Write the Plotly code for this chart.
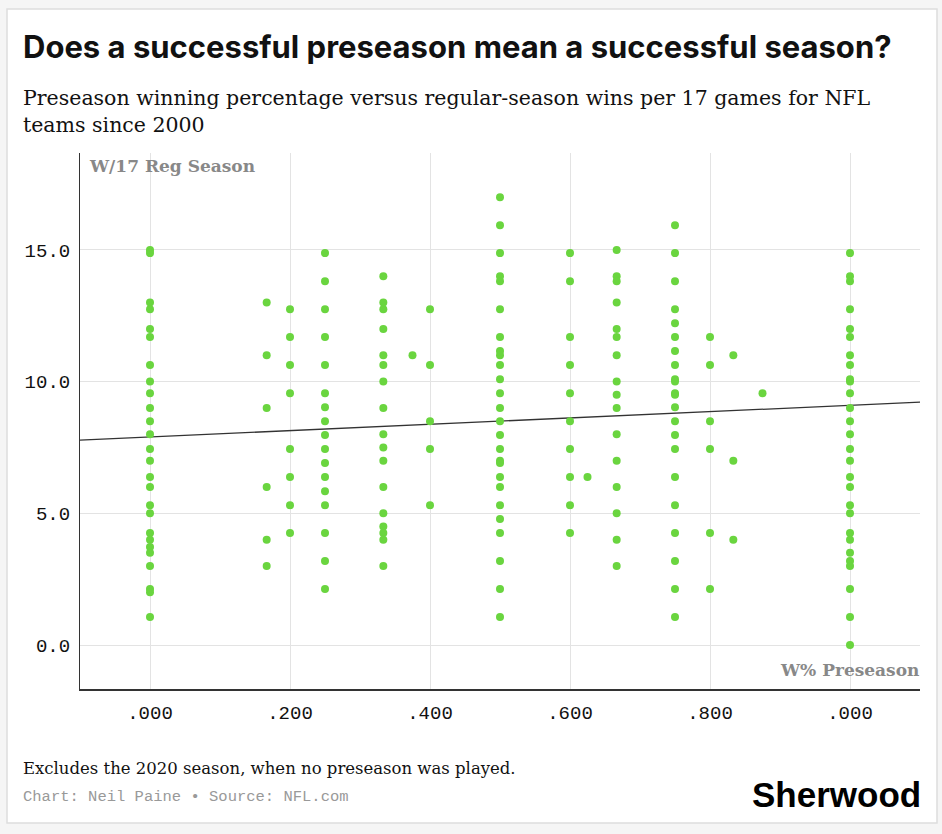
import plotly.graph_objects as go

# regular-season wins per 17 games, grouped by preseason winning percentage
wins_000 = [15.0, 14.88, 13.0, 12.75, 12.0, 11.69, 10.63, 10.0, 9.56, 9.0, 8.5, 8.0, 7.44, 7.0,
            6.38, 6.0, 5.31, 5.0, 4.25, 4.0, 3.72, 3.5, 3.0, 2.13, 2.0, 1.06]
wins_167 = [13.0, 11.0, 9.0, 6.0, 4.0, 3.0]
wins_200 = [12.75, 11.69, 10.63, 9.56, 7.44, 6.38, 5.31, 4.25]
wins_250 = [14.88, 13.81, 12.75, 11.69, 10.63, 9.56, 9.03, 8.5, 7.97, 7.44, 6.91, 6.38, 5.84,
            5.31, 4.25, 3.19, 2.13]
wins_333 = [14.0, 13.0, 12.75, 12.0, 11.0, 10.63, 10.0, 9.0, 8.0, 7.5, 7.0, 6.0, 5.0, 4.5, 4.25,
            4.0, 3.0]
wins_375 = [11.0]
wins_400 = [12.75, 10.63, 8.5, 7.44, 5.31]
wins_500 = [17.0, 15.94, 14.88, 14.0, 13.81, 12.75, 11.69, 11.16, 11.0, 10.63, 10.09, 9.56, 9.0,
            8.5, 7.97, 7.44, 7.0, 6.91, 6.38, 6.0, 5.31, 4.78, 4.25, 3.19, 2.13, 1.06]
wins_600 = [14.88, 13.81, 11.69, 10.63, 9.56, 8.5, 7.44, 6.38, 5.31, 4.25]
wins_625 = [6.38]
wins_667 = [15.0, 14.0, 13.81, 13.0, 12.0, 11.69, 11.0, 10.0, 9.5, 9.0, 8.0, 7.0, 6.0, 5.0, 4.0, 3.0]
wins_750 = [15.94, 14.88, 13.81, 12.75, 12.22, 11.69, 11.16, 10.63, 10.09, 10.0, 9.56, 9.5, 9.03,
            8.5, 7.97, 7.44, 6.38, 5.31, 4.25, 3.19, 2.13, 1.06]
wins_800 = [11.69, 10.63, 8.5, 7.44, 4.25, 2.13]
wins_833 = [11.0, 7.0, 4.0]
wins_875 = [9.56]
wins_1000 = [14.88, 14.0, 13.81, 12.75, 12.0, 11.69, 11.0, 10.63, 10.09, 10.0, 9.56, 9.0, 8.5, 8.0,
             7.44, 7.0, 6.38, 6.0, 5.31, 5.0, 4.25, 4.0, 3.5, 3.19, 3.0, 2.13, 1.06, 0.0]

groups = [
    (0.0, wins_000), (1 / 6, wins_167), (0.2, wins_200), (0.25, wins_250), (1 / 3, wins_333),
    (0.375, wins_375), (0.4, wins_400), (0.5, wins_500), (0.6, wins_600), (0.625, wins_625),
    (2 / 3, wins_667), (0.75, wins_750), (0.8, wins_800), (5 / 6, wins_833), (0.875, wins_875),
    (1.0, wins_1000),
]

# linear trend
trend_intercept = 7.9
trend_slope = 1.2

x_ticks = [0, 0.2, 0.4, 0.6, 0.8, 1.0]
x_tick_labels = [".000", ".200", ".400", ".600", ".800", ".000"]
y_ticks = [0, 5, 10, 15]
y_tick_labels = ["0.0", "5.0", "10.0", "15.0"]

x_range = [-0.1, 1.1]
y_range = [-1.67, 18.68]

xs, ys = [], []
for pct, wins in groups:
    xs += [pct] * len(wins)
    ys += wins

W, H = 942, 834
L, R, T, B = 80, 22, 153, 145
pw, ph = W - L - R, H - T - B


def px_x(px):
    return (px - L) / pw


def px_y(py):
    return (H - B - py) / ph


SERIF = "DejaVu Serif"
MONO = "Liberation Mono"
SANS = "Inter"

fig = go.Figure()
fig.add_trace(go.Scatter(
    x=x_range, y=[trend_intercept + trend_slope * v for v in x_range],
    mode="lines", line=dict(color="#333333", width=1.3), hoverinfo="skip", showlegend=False))
fig.add_trace(go.Scatter(
    x=xs, y=ys, mode="markers", showlegend=False,
    marker=dict(color="#6ad53f", size=8, line=dict(width=0))))

fig.update_xaxes(range=x_range, tickvals=x_ticks, ticktext=x_tick_labels,
                 showgrid=True, gridcolor="#e3e3e3", gridwidth=1, zeroline=False,
                 showline=True, linecolor="#333333", linewidth=2, ticks="",
                 ticklabelstandoff=5,
                 tickfont=dict(family=MONO, size=19, color="#111111"))
fig.update_yaxes(range=y_range, tickvals=y_ticks, ticktext=y_tick_labels,
                 showgrid=True, gridcolor="#e3e3e3", gridwidth=1, zeroline=False,
                 showline=True, linecolor="#333333", linewidth=1, ticks="",
                 ticklabelstandoff=5,
                 tickfont=dict(family=MONO, size=19, color="#111111"))

annotations = [
    dict(text="<b>Does a successful preseason mean a successful season?</b>",
         x=px_x(21), y=px_y(46), xanchor="left", yanchor="middle",
         font=dict(family=SANS, size=31, color="#111111")),
    dict(text="Preseason winning percentage versus regular-season wins per 17 games for NFL<br>teams since 2000",
         x=px_x(21), y=px_y(112), xanchor="left", yanchor="middle", align="left",
         font=dict(family=SERIF, size=20.5, color="#111111")),
    dict(text="<b>W/17 Reg Season</b>", x=px_x(87), y=px_y(166), xanchor="left", yanchor="middle",
         font=dict(family=SERIF, size=17, color="#888888")),
    dict(text="<b>W% Preseason</b>", x=px_x(921), y=px_y(670), xanchor="right", yanchor="middle",
         font=dict(family=SERIF, size=17, color="#888888")),
    dict(text="Excludes the 2020 season, when no preseason was played.",
         x=px_x(21), y=px_y(768), xanchor="left", yanchor="middle",
         font=dict(family=SERIF, size=16.5, color="#111111")),
    dict(text="Chart: Neil Paine \u2022 Source: NFL.com",
         x=px_x(21), y=px_y(797), xanchor="left", yanchor="middle",
         font=dict(family=MONO, size=15.5, color="#999999")),
    dict(text="<b>Sherwood</b>", x=px_x(923), y=px_y(794), xanchor="right", yanchor="middle",
         font=dict(family="Liberation Sans", size=35, color="#000000")),
]
for a in annotations:
    a.update(xref="paper", yref="paper", showarrow=False)

fig.update_layout(
    width=W, height=H,
    margin=dict(l=L, r=R, t=T, b=B),
    paper_bgcolor="#f5f5f5", plot_bgcolor="#ffffff",
    annotations=annotations,
    shapes=[dict(type="rect", xref="paper", yref="paper", layer="below",
                 x0=px_x(7), x1=px_x(937), y0=px_y(823), y1=px_y(9),
                 fillcolor="#ffffff", line=dict(color="#dddddd", width=1.5))],
)

fig.write_html("out.html", config={"displayModeBar": False},
               post_script="document.body.style.margin='0';document.body.style.background='#f5f5f5';")
